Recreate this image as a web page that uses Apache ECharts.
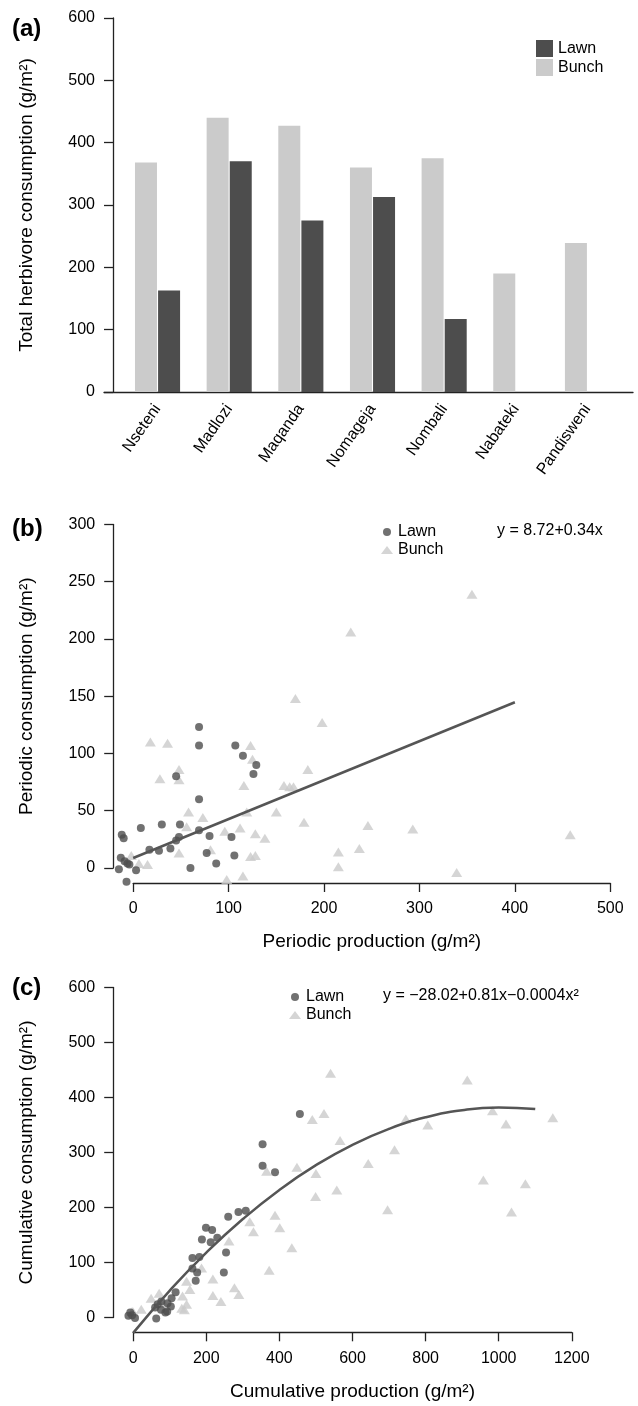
<!DOCTYPE html>
<html>
<head>
<meta charset="utf-8">
<script src="https://cdn.jsdelivr.net/npm/echarts@6/dist/echarts.min.js"></script>
<style>
html, body { margin: 0; padding: 0; background: #fff; }
#main { width: 638px; height: 1406px; }
</style>
</head>
<body>
<div id="main"></div>
<script>
// (a) total herbivore consumption per site
var sites = ['Nseteni', 'Madlozi', 'Maqanda', 'Nomageja', 'Nombali', 'Nabateki', 'Pandisweni'];
var bunchTotal = [368, 440, 427, 360, 375, 190, 239];
var lawnTotal = [163, 370, 275, 313, 117, null, null];

// (b) periodic production (x) vs periodic consumption (y)
var periodicLawnX = [69, 69, 107, 115, 129, 126, 45, 69, 8, 30, 49, 69, 48, 80, 103, 45, 39, 27, 17, 77, 106, 87, 60, -12, -10, -13, -9, -4, -6, -15, 3, -7];
var periodicLawnY = [123, 107, 107, 98, 90, 82, 80, 60, 35, 38, 38, 33, 27, 28, 27, 24, 17, 15, 16, 13, 11, 4, 0, 29, 26, 9, 6, 3, 4, -1, -2, -12];
var periodicBunchX = [18, 36, 123, 125, 48, 48, 28, 116, 170, 228, 198, 183, 158, 164, 168, 58, 119, 150, 73, 179, 56, 96, 112, 128, 138, 81, 48, 123, 128, -2, 15, 6, 98, 115, 215, 215, 237, 246, 293, 355, 339, 458];
var periodicBunchY = [110, 109, 107, 95, 86, 77, 78, 72, 148, 206, 127, 86, 72, 71, 71, 49, 49, 49, 44, 40, 36, 32, 35, 30, 26, 16, 13, 10, 11, 11, 3, 4, -10, -7, 1, 14, 17, 37, 34, 239, -4, 29];
var periodicFitX = [0, 400];
var periodicFitY = [8.72, 144.7];

// (c) cumulative production (x) vs cumulative consumption (y)
var cumulativeLawnX = [-13, -8, -3, 5, 63, 76, 88, 93, 77, 94, 105, 103, 67, 60, 116, 162, 181, 162, 175, 171, 188, 216, 199, 212, 230, 254, 248, 260, 288, 308, 354, 354, 388, 456];
var cumulativeLawnY = [3, 9, 4, -1, -2, 14, 9, 11, 29, 26, 35, 20, 24, 18, 46, 108, 110, 89, 82, 67, 142, 159, 163, 137, 145, 118, 82, 183, 192, 194, 315, 276, 264, 370];
var cumulativeBunchX = [-3, 0, 22, 49, 71, 84, 133, 135, 146, 140, 146, 155, 187, 218, 218, 240, 262, 277, 289, 319, 329, 365, 372, 388, 401, 434, 448, 490, 500, 499, 522, 540, 566, 557, 643, 696, 715, 746, 806, 914, 958, 983, 1020, 1035, 1073, 1148];
var cumulativeBunchY = [11, 10, 15, 35, 44, 25, 17, 39, 24, 14, 66, 51, 90, 70, 40, 29, 139, 54, 42, 174, 156, 266, 86, 186, 163, 127, 273, 360, 262, 220, 371, 444, 322, 232, 280, 196, 305, 361, 350, 432, 250, 376, 352, 192, 243, 363];
var cumulativeFitX = [0, 100, 200, 300, 400, 500, 600, 700, 800, 900, 1000, 1100];
var cumulativeFitY = [-28, 49, 118, 179, 232, 277, 314, 343, 364, 377, 382, 379];

function pairs(xs, ys) {
  var out = [];
  for (var i = 0; i < xs.length; i++) out.push([xs[i], ys[i]]);
  return out;
}

var FONT = '"Liberation Sans", Arial, sans-serif';
var LAWN = '#4d4d4d';
var BUNCH = '#cbcbcb';
var AXIS = { show: true, onZero: false, lineStyle: { color: '#222', width: 1.3 } };
var TICK = { show: true, inside: false, length: 9, lineStyle: { color: '#222', width: 1.3 } };
var LABEL = { color: '#000', fontSize: 16, fontFamily: FONT, formatter: function (v) { return String(v); } };
var NAME = { color: '#000', fontSize: 19, fontFamily: FONT };
var stripName = function (n) { return n.replace(/ \(.\)$/, ''); };

var chart = echarts.init(document.getElementById('main'));
chart.setOption({
  animation: false,
  backgroundColor: '#fff',
  textStyle: { fontFamily: FONT },
  title: [
    { text: '(a)', left: 12, top: 17, padding: 0, textStyle: { fontSize: 24, fontWeight: 'bold', color: '#000', fontFamily: FONT } },
    { text: '(b)', left: 12, top: 517, padding: 0, textStyle: { fontSize: 24, fontWeight: 'bold', color: '#000', fontFamily: FONT } },
    { text: '(c)', left: 12, top: 976, padding: 0, textStyle: { fontSize: 24, fontWeight: 'bold', color: '#000', fontFamily: FONT } },
    { text: 'y = 8.72+0.34x', left: 497, top: 523, padding: 0, textStyle: { fontSize: 16, fontWeight: 'normal', color: '#000', fontFamily: FONT } },
    { text: 'y = \u221228.02+0.81x\u22120.0004x\u00b2', left: 383, top: 988, padding: 0, textStyle: { fontSize: 16, fontWeight: 'normal', color: '#000', fontFamily: FONT } }
  ],
  legend: [
    {
      left: 536, top: 40, padding: 0, orient: 'vertical', selectedMode: false,
      itemWidth: 17, itemHeight: 17, itemGap: 2,
      data: [{ name: 'Lawn', icon: 'rect' }, { name: 'Bunch', icon: 'rect' }],
      textStyle: { fontSize: 16, color: '#000', fontFamily: FONT }
    },
    {
      left: 381, top: 523, padding: 0, orient: 'vertical', selectedMode: false,
      itemWidth: 12, itemHeight: 8, itemGap: 0,
      data: ['Lawn (b)', 'Bunch (b)'], formatter: stripName,
      textStyle: { fontSize: 16, lineHeight: 18, color: '#000', fontFamily: FONT }
    },
    {
      left: 289, top: 988, padding: 0, orient: 'vertical', selectedMode: false,
      itemWidth: 12, itemHeight: 8, itemGap: 0,
      data: ['Lawn (c)', 'Bunch (c)'], formatter: stripName,
      textStyle: { fontSize: 16, lineHeight: 18, color: '#000', fontFamily: FONT }
    }
  ],
  grid: [
    { left: 121.7, top: 18, width: 501.6, height: 374 },
    { left: 104, top: 18, width: 529, height: 374 },
    { left: 133.2, top: 524.4, width: 477.1, height: 343.6 },
    { left: 133.2, top: 987.5, width: 438.6, height: 330 }
  ],
  xAxis: [
    {
      gridIndex: 0, type: 'category', data: sites,
      axisLine: { show: false }, axisTick: { show: false },
      axisLabel: { interval: 0, rotate: 55, margin: 14, color: '#000', fontSize: 16, fontFamily: FONT }
    },
    {
      gridIndex: 1, type: 'value', min: 0, max: 1,
      axisLine: AXIS, axisTick: { show: false }, axisLabel: { show: false }, splitLine: { show: false }
    },
    {
      gridIndex: 2, type: 'value', min: 0, max: 500, interval: 100, offset: 15,
      axisLine: AXIS, axisTick: TICK, axisLabel: Object.assign({ margin: 18 }, LABEL), splitLine: { show: false },
      name: 'Periodic production (g/m\u00b2)', nameLocation: 'middle', nameGap: 49, nameTextStyle: NAME
    },
    {
      gridIndex: 3, type: 'value', min: 0, max: 1200, interval: 200, offset: 14.8,
      axisLine: AXIS, axisTick: TICK, axisLabel: Object.assign({ margin: 18 }, LABEL), splitLine: { show: false },
      name: 'Cumulative production (g/m\u00b2)', nameLocation: 'middle', nameGap: 50, nameTextStyle: NAME
    }
  ],
  yAxis: [
    {
      gridIndex: 0, type: 'value', min: 0, max: 600, interval: 100, offset: 8.7,
      axisLine: AXIS, axisTick: TICK, axisLabel: Object.assign({ margin: 18 }, LABEL), splitLine: { show: false },
      name: 'Total herbivore consumption (g/m\u00b2)', nameLocation: 'middle', nameGap: 77, nameTextStyle: NAME
    },
    { gridIndex: 1, type: 'value', show: false, splitLine: { show: false } },
    {
      gridIndex: 2, type: 'value', min: 0, max: 300, interval: 50, offset: 20,
      axisLine: AXIS, axisTick: TICK, axisLabel: Object.assign({ margin: 18 }, LABEL), splitLine: { show: false },
      name: 'Periodic consumption (g/m\u00b2)', nameLocation: 'middle', nameGap: 77, nameTextStyle: NAME
    },
    {
      gridIndex: 3, type: 'value', min: 0, max: 600, interval: 100, offset: 20,
      axisLine: AXIS, axisTick: TICK, axisLabel: Object.assign({ margin: 18 }, LABEL), splitLine: { show: false },
      name: 'Cumulative consumption (g/m\u00b2)', nameLocation: 'middle', nameGap: 77, nameTextStyle: NAME
    }
  ],
  series: [
    {
      name: 'Bunch', type: 'bar', xAxisIndex: 0, yAxisIndex: 0, data: bunchTotal,
      barWidth: 22, barGap: '5%', itemStyle: { color: BUNCH }
    },
    {
      name: 'Lawn', type: 'bar', xAxisIndex: 0, yAxisIndex: 0, data: lawnTotal,
      barWidth: 22, barGap: '5%', itemStyle: { color: LAWN }
    },
    {
      name: 'Bunch (b)', type: 'scatter', xAxisIndex: 2, yAxisIndex: 2, clip: false,
      symbol: 'triangle', symbolSize: [11, 9], itemStyle: { color: BUNCH },
      data: pairs(periodicBunchX, periodicBunchY)
    },
    {
      name: 'Lawn (b)', type: 'scatter', xAxisIndex: 2, yAxisIndex: 2, clip: false,
      symbol: 'circle', symbolSize: 8, itemStyle: { color: LAWN },
      data: pairs(periodicLawnX, periodicLawnY)
    },
    {
      name: 'fit (b)', type: 'line', xAxisIndex: 2, yAxisIndex: 2, clip: false, silent: true,
      showSymbol: false, lineStyle: { color: '#555', width: 2.5 },
      data: pairs(periodicFitX, periodicFitY)
    },
    {
      name: 'Bunch (c)', type: 'scatter', xAxisIndex: 3, yAxisIndex: 3, clip: false,
      symbol: 'triangle', symbolSize: [11, 9], itemStyle: { color: BUNCH },
      data: pairs(cumulativeBunchX, cumulativeBunchY)
    },
    {
      name: 'Lawn (c)', type: 'scatter', xAxisIndex: 3, yAxisIndex: 3, clip: false,
      symbol: 'circle', symbolSize: 8, itemStyle: { color: LAWN },
      data: pairs(cumulativeLawnX, cumulativeLawnY)
    },
    {
      name: 'fit (c)', type: 'line', xAxisIndex: 3, yAxisIndex: 3, clip: false, silent: true,
      showSymbol: false, smooth: true, lineStyle: { color: '#555', width: 2.5 },
      data: pairs(cumulativeFitX, cumulativeFitY)
    }
  ]
});
</script>
</body>
</html>
